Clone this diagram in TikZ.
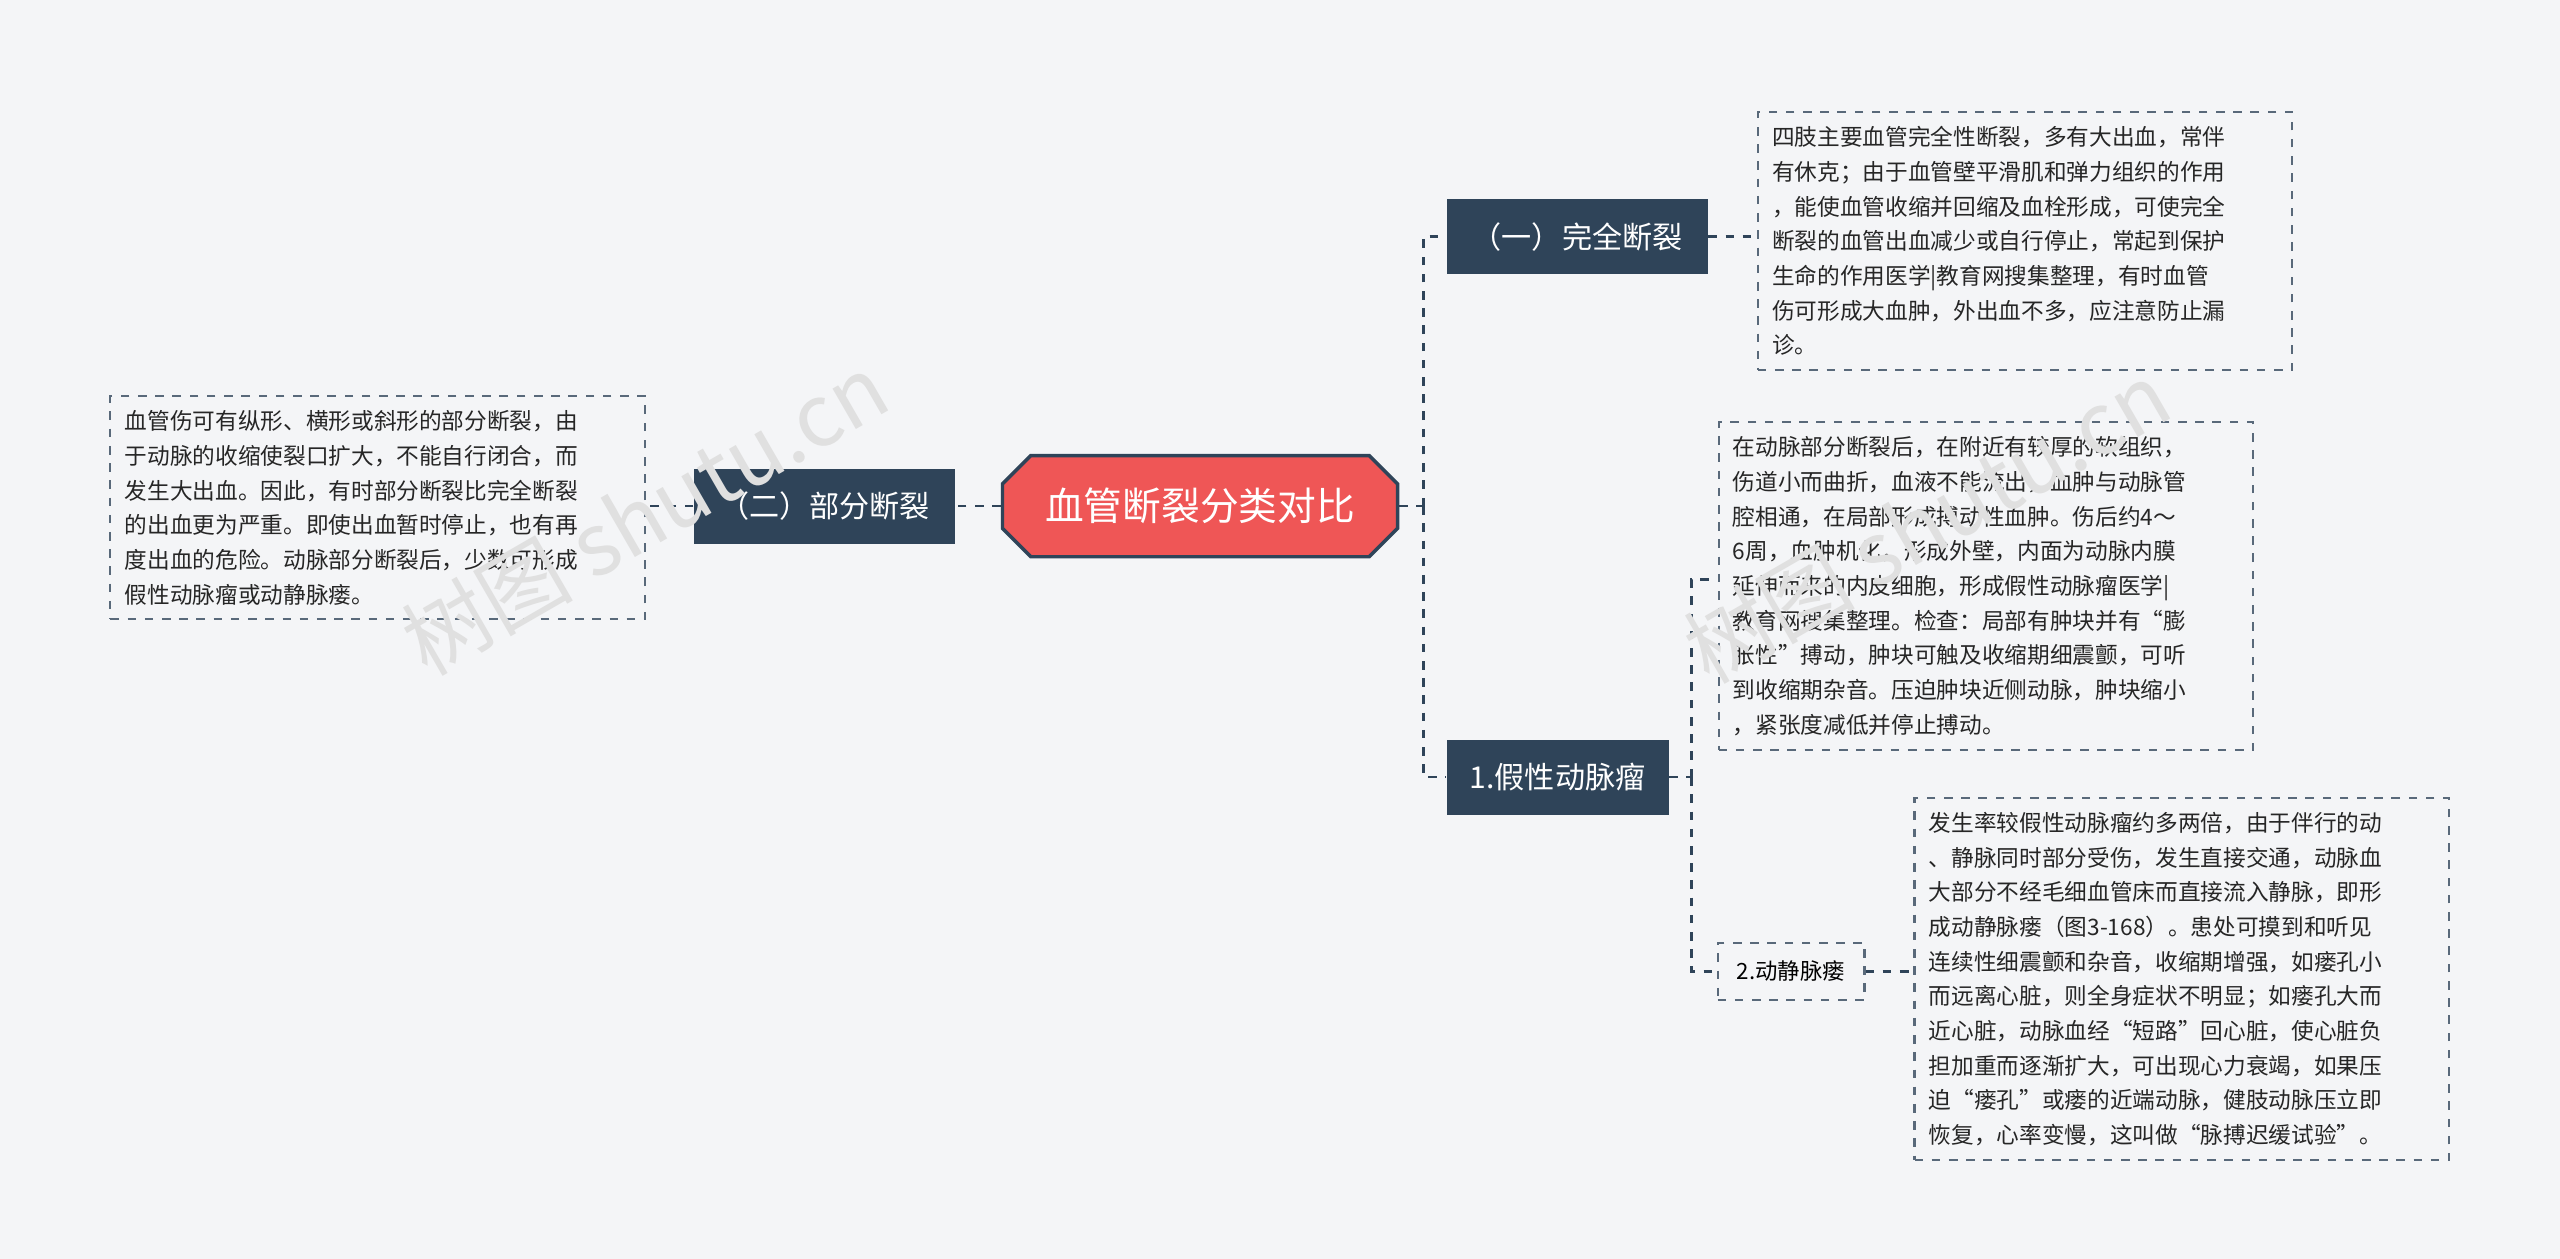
\documentclass[tikz,border=0pt]{standalone}
\usepackage{fontspec}
\setmainfont{Noto Sans CJK SC}
\usetikzlibrary{shapes.geometric,shapes.misc}
\definecolor{dk}{HTML}{2F4459}
\definecolor{rd}{HTML}{EF5656}
\definecolor{bg}{HTML}{F4F5F7}
\tikzset{
 lk/.style={draw=dk,dashed,line width=0.9pt},
 topic/.style={fill=dk,text=white,font=\fontsize{10.5}{13}\selectfont,inner sep=0pt,minimum height=0.92cm},
 note/.style={draw=dk!80,dashed,line width=0.7pt,align=left,anchor=north west,inner sep=5pt,font=\fontsize{7.9}{12.1}\selectfont,text=black!85},
 wm/.style={text=black!12,rotate=30,font=\fontsize{30}{30}\selectfont},
}
\begin{document}
\begin{tikzpicture}[x=0.02cm,y=-0.02cm]
\fill[bg] (0,0) rectangle (1568,771);
\useasboundingbox (0,0) rectangle (1568,771);
% central
\node[chamfered rectangle,chamfered rectangle xsep=0.3cm,draw=dk,line width=1.2pt,fill=rd,text=white,font=\fontsize{13.5}{16}\selectfont,minimum width=4.84cm,minimum height=1.24cm,inner sep=0pt] (c) at (735,310) {血管断裂分类对比};
\node[topic,minimum width=3.2cm] (a) at (966,145) {（一）完全断裂};
\node[topic,minimum width=2.72cm] (b) at (954,476) {1.假性动脉瘤};
\node[topic,minimum width=3.2cm] (l) at (505,310) {（二）部分断裂};
\node[draw=dk!80,dashed,line width=0.7pt,font=\fontsize{7.8}{10}\selectfont,minimum width=1.8cm,minimum height=0.7cm,inner sep=0pt] (d) at (1097,595) {2.动静脉瘘};
\node[note,text width=6.2cm] (t1) at (1076,68) {四肢主要血管完全性断裂，多有大出血，常伴\\有休克；由于血管壁平滑肌和弹力组织的作用\\，能使血管收缩并回缩及血栓形成，可使完全\\断裂的血管出血减少或自行停止，常起到保护\\生命的作用医学|教育网搜集整理，有时血管\\伤可形成大血肿，外出血不多，应注意防止漏\\诊。};
\node[note,text width=6.2cm] (t2) at (1052,258) {在动脉部分断裂后，在附近有较厚的软组织，\\伤道小而曲折，血液不能流出，血肿与动脉管\\腔相通，在局部形成搏动性血肿。伤后约4～\\6周，血肿机化，形成外壁，内面为动脉内膜\\延伸而来的内皮细胞，形成假性动脉瘤医学|\\教育网搜集整理。检查：局部有肿块并有“膨\\胀性”搏动，肿块可触及收缩期细震颤，可听\\到收缩期杂音。压迫肿块近侧动脉，肿块缩小\\，紧张度减低并停止搏动。};
\node[note,text width=6.2cm] (t3) at (1172,488) {发生率较假性动脉瘤约多两倍，由于伴行的动\\、静脉同时部分受伤，发生直接交通，动脉血\\大部分不经毛细血管床而直接流入静脉，即形\\成动静脉瘘（图3-168）。患处可摸到和听见\\连续性细震颤和杂音，收缩期增强，如瘘孔小\\而远离心脏，则全身症状不明显；如瘘孔大而\\近心脏，动脉血经“短路”回心脏，使心脏负\\担加重而逐渐扩大，可出现心力衰竭，如果压\\迫“瘘孔”或瘘的近端动脉，健肢动脉压立即\\恢复，心率变慢，这叫做“脉搏迟缓试验”。};
\node[note,text width=6.2cm] (t4) at (67,242) {血管伤可有纵形、横形或斜形的部分断裂，由\\于动脉的收缩使裂口扩大，不能自行闭合，而\\发生大出血。因此，有时部分断裂比完全断裂\\的出血更为严重。即使出血暂时停止，也有再\\度出血的危险。动脉部分断裂后，少数可形成\\假性动脉瘤或动静脉瘘。};
% connectors
\coordinate (j1) at (872,310);
\draw[lk] (c.east) -- (j1);
\draw[lk] (j1) |- (a.west);
\draw[lk] (j1) |- (b.west);
\draw[lk] (a.east) -- (t1.west |- a.east);
\coordinate (j2) at (1036,476);
\draw[lk] (b.east) -- (j2);
\draw[lk] (j2) |- (t2.west |- 0,355);
\draw[lk] (j2) |- (d.west);
\draw[lk] (d.east) -- (t3.west |- d.east);
\draw[lk] (c.west) -- (l.east);
\draw[lk] (l.west) -- (t4.east |- l.west);
% watermarks
\node[wm] (w1) at (395,315) {树图 shutu.cn};
\node[wm] (w2) at (1180,320) {树图 shutu.cn};
\end{tikzpicture}
\end{document}
